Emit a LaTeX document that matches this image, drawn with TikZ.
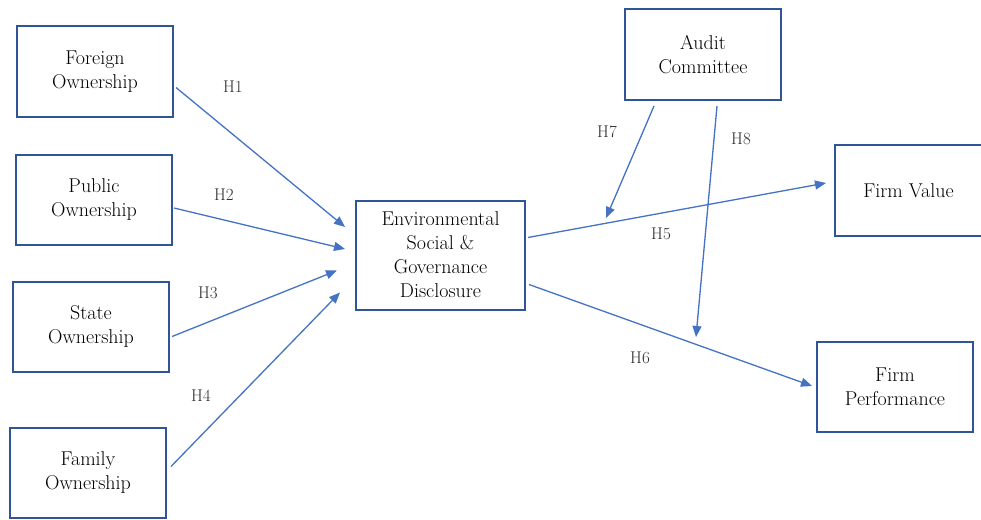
\documentclass[tikz,border=0pt]{standalone}
\usepackage{tikz}
\usetikzlibrary{arrows.meta}
\usetikzlibrary{calc, positioning}
\definecolor{boxblue}{RGB}{47,85,151}
\definecolor{pfeilblue}{RGB}{68,114,196}
\definecolor{labelgrey}{RGB}{45,45,45}

\tikzset{
  kasten/.style={draw=boxblue, line width=2pt, minimum width=156pt, minimum height=90pt, inner sep=0pt, align=center, font=\fontsize{20}{24}\selectfont},
  pfeil/.style={draw=pfeilblue, line width=1.3pt, -{Triangle[length=11pt,width=9pt]}},
  hlabel/.style={text=labelgrey, font=\fontsize{17}{18}\selectfont}
}

\begin{document}
\begin{tikzpicture}[x=1pt, y=-1pt] % 1 Einheit = 1 Pixel, y nach unten
\useasboundingbox (0,0) rectangle (981,519);

% Kästen links
\foreach \name/\x/\y/\lbl in {fo/95/71.5/Foreign, pu/94/200/Public, st/91/326.5/State, fa/88/472.5/Family} {
  \node[kasten] (\name) at (\x,\y) {\lbl\\Ownership};
}

% Kästen Mitte und rechts
\node[kasten, minimum width=169pt, minimum height=109pt] (esg) at (440.5,255) {Environmental\\Social \&\\Governance\\Disclosure};
\node[kasten, minimum height=91pt] (ac) at (703,54.5) {Audit\\Committee};
\node[kasten, minimum width=147pt, minimum height=91pt] (fv) at (908.5,190.5) {Firm Value};
\node[kasten] (fp) at (895,387) {Firm\\Performance};

% Pfeile H1 bis H4
\foreach \von/\dx/\dy/\ex/\ey in {fo/2/16/-10/-28, pu/1/8/-10/-6, st/2/10/-18/15.5, fa/4/-6/-15/37.5} {
  \draw[pfeil] ($(\von.east)+(\dx,\dy)$) -- ($(esg.west)+(\ex,\ey)$);
}

% Pfeile H5 und H6
\draw[pfeil] ($(esg.east)+(2,-17.5)$) -- ($(fv.west)+(-8,-7.5)$);
\draw[pfeil] ($(esg.east)+(3,29.5)$) -- ($(fp.west)+(-4,-1)$);

% Moderation durch Audit Committee
\coordinate (m7) at (606,218);
\coordinate (m8) at (696,337);
\draw[pfeil] ($(ac.south)+(-49,5)$) -- (m7);
\draw[pfeil] ($(ac.south)+(14,5)$) -- (m8);

% Beschriftungen
\foreach \name/\x/\y/\lbl in {h1/233/87/H1, h2/224/195/H2, h3/208/293/H3, h4/201/396/H4, h5/661/234/H5, h6/640/358/H6, h7/607/132/H7, h8/741/139/H8} {
  \node[hlabel] (\name) at (\x,\y) {\lbl};
}

\end{tikzpicture}
\end{document}
